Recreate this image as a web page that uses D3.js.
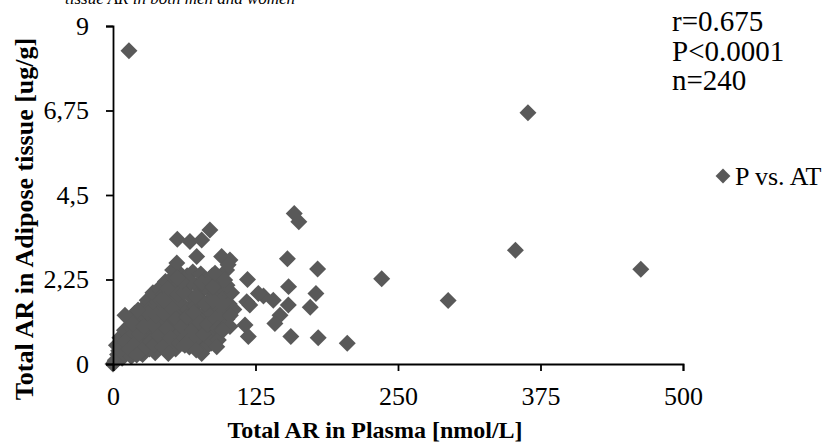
<!DOCTYPE html>
<html>
<head>
<meta charset="utf-8">
<script src="https://cdn.jsdelivr.net/npm/d3@7"></script>
<style>
  body { margin: 0; background: #fff; }
  text { font-family: "Liberation Serif", "Times New Roman", serif; fill: #000; }
  .axis path, .axis line { stroke: #000; stroke-width: 1.8; }
  .axis text { font-size: 26px; }
</style>
</head>
<body>
<div id="DataContent"></div>
<script>
// plasma AR (x, nmol/L) and adipose tissue AR (y, ug/g)
var plasmaAR = [
  0, 2, 4, 3, 6, 8, 9, 10, 12, 13, 14, 15, 16, 17, 18, 19, 21, 22, 22, 24,
  25, 26, 27, 28, 29, 30, 31, 32, 33, 34, 35, 36, 37, 38, 39, 40, 41, 42, 43, 44,
  45, 46, 47, 48, 49, 50, 51, 52, 53, 54, 55, 56, 57, 58, 59, 60, 61, 62, 63, 64,
  65, 66, 67, 68, 69, 70, 71, 72, 73, 74, 75, 76, 77, 78, 79, 80, 81, 82, 83, 84,
  85, 86, 87, 88, 89, 90, 91, 92, 93, 94, 95, 96, 97, 99, 100, 102, 104, 106,
  5, 11, 14, 18, 20, 23, 24, 27, 29, 31, 33, 35, 36, 38, 40, 42, 44, 45, 47, 48,
  50, 51, 53, 55, 57, 58, 60, 62, 63, 65, 66, 68, 70, 71, 73, 74, 76, 78, 80, 81,
  83, 85, 86, 88, 90, 92, 94, 96, 98, 100, 103, 60, 45, 88,
  14, 364, 353, 235.7, 294, 463,
  159, 163, 153, 179.5, 154, 178, 173, 156, 180, 205.5, 118, 132, 140.6, 153.8,
  146.5, 142, 115.8, 118.7, 117.3, 102.6, 99.7,
  85, 56.4, 67.5, 77.8, 73.4, 95.3, 101, 52.3, 56, 89.5, 98, 127.5, 120, 95.3,
  92.4, 79.2, 48.5, 20.8, 1.8, 102.6, 77.8, 63, 73, 91, 96.5, 56, 10.5, 22
];
var adiposeAR = [
  0, 0.1, 0.25, 0.5, 0.7, 0.15, 0.45, 0.9, 0.3, 0.65, 1.2, 1.0, 0.2, 0.5, 0.8, 1.35, 0.35, 0.6, 1.1, 0.9,
  1.45, 0.25, 0.55, 1.25, 0.8, 1.7, 1.05, 0.4, 1.5, 0.7, 1.9, 1.2, 0.3, 0.95, 1.65, 2.0, 1.4, 0.5, 1.1, 1.85,
  0.8, 2.2, 1.55, 0.35, 1.25, 1.95, 0.6, 2.3, 1.0, 1.7, 0.4, 2.1, 1.35, 0.8, 2.4, 1.6, 0.55, 1.15, 2.0, 0.9,
  2.35, 1.45, 0.45, 1.8, 1.1, 2.45, 0.7, 1.55, 2.1, 1.3, 0.5, 1.9, 2.4, 0.9, 1.65, 1.2, 2.25, 0.6, 1.45, 2.0,
  1.0, 1.75, 2.35, 1.3, 0.75, 1.9, 1.55, 2.15, 1.1, 1.7, 0.9, 2.0, 1.4, 1.8, 1.2, 1.6, 1.9, 1.45,
  0.35, 0.6, 0.4, 1.05, 0.55, 0.8, 0.3, 1.0, 0.45, 1.35, 0.6, 1.05, 0.5, 1.3, 0.75, 1.7, 0.45, 1.35, 0.95, 2.0,
  0.7, 1.5, 0.45, 1.2, 1.85, 0.55, 1.0, 1.9, 0.7, 1.25, 0.6, 2.2, 0.9, 1.35, 1.8, 0.7, 1.1, 2.15, 0.8, 1.6,
  1.05, 2.2, 0.55, 1.7, 1.2, 0.95, 2.25, 1.6, 1.0, 2.1, 1.3, 2.2, 1.7, 2.05,
  8.34, 6.69, 3.03, 2.27, 1.69, 2.52,
  4.01, 3.79, 2.80, 2.53, 2.06, 1.88, 1.51, 0.73, 0.70, 0.55, 2.25, 1.81, 1.70, 1.57,
  1.30, 1.08, 1.04, 0.73, 1.66, 2.77, 2.50,
  3.57, 3.32, 3.26, 3.30, 2.86, 2.86, 2.64, 2.50, 2.69, 2.42, 2.24, 1.88, 1.57, 0.90,
  0.64, 0.37, 0.28, 0.24, 0.06, 1.0, 0.28, 0.5, 0.37, 0.46, 0.9, 2.29, 1.3, 1.44
];
var xTicks = [0, 125, 250, 375, 500];
var yTicks = [0, 2.25, 4.5, 6.75, 9];
var yTickLabels = ['0', '2,25', '4,5', '6,75', '9'];
var statLines = ['r=0.675', 'P<0.0001', 'n=240'];
var seriesName = 'P vs. AT';

var width = 830, height = 446;
var margin = {top: 26, right: 147, bottom: 82, left: 113};
var pointColor = '#595959';

var svgContainer = d3.select('#DataContent')
    .append('svg')
    .attr('width', width)
    .attr('height', height);

var xScale = d3.scaleLinear()
    .domain([0, 500])
    .range([margin.left, width - margin.right]);

var yScale = d3.scaleLinear()
    .domain([0, 9])
    .range([height - margin.bottom, margin.top]);

var xAxis = d3.axisBottom(xScale)
    .tickValues(xTicks)
    .tickSize(7)
    .tickPadding(16)
    .tickFormat(d3.format('d'));

var yAxis = d3.axisLeft(yScale)
    .tickValues(yTicks)
    .tickSize(7)
    .tickPadding(17)
    .tickFormat(function(d, i) { return yTickLabels[i]; });

// caption line cut off at the very top, as in the source figure
svgContainer.append('text')
    .attr('x', 65)
    .attr('y', 4)
    .style('font-size', '17px')
    .style('font-style', 'italic')
    .text('tissue AR in both men and women');

var points = plasmaAR.map(function(d, i) { return {x: d, y: adiposeAR[i]}; });

var diamond = d3.symbol().type(d3.symbolSquare).size(144);

svgContainer.append('g')
    .selectAll('path')
    .data(points)
    .enter()
    .append('path')
    .attr('d', diamond)
    .attr('fill', pointColor)
    .attr('transform', function(d) {
        return 'translate(' + xScale(d.x) + ',' + yScale(d.y) + ') rotate(45)';
    });

svgContainer.append('g')
    .attr('class', 'axis')
    .attr('transform', 'translate(0,' + (height - margin.bottom) + ')')
    .call(xAxis);

svgContainer.append('g')
    .attr('class', 'axis')
    .attr('transform', 'translate(' + margin.left + ',0)')
    .call(yAxis);

svgContainer.selectAll('.axis text').attr('font-family', null);

// axis titles
svgContainer.append('text')
    .attr('x', 375)
    .attr('y', 438)
    .style('text-anchor', 'middle')
    .style('font-size', '24px')
    .style('font-weight', 'bold')
    .text('Total AR in Plasma [nmol/L]');

svgContainer.append('text')
    .attr('transform', 'translate(33,219) rotate(-90)')
    .style('text-anchor', 'middle')
    .style('font-size', '26px')
    .style('font-weight', 'bold')
    .text('Total AR in Adipose tissue [ug/g]');

// stats block
svgContainer.append('g')
    .selectAll('text')
    .data(statLines)
    .enter()
    .append('text')
    .attr('x', 672)
    .attr('y', function(d, i) { return 31 + i * 29.5; })
    .style('font-size', '29px')
    .text(function(d) { return d; });

// legend
var legend = svgContainer.append('g')
    .attr('transform', 'translate(723,176)');

legend.append('path')
    .attr('d', d3.symbol().type(d3.symbolSquare).size(110))
    .attr('transform', 'rotate(45)')
    .attr('fill', pointColor);

legend.append('text')
    .attr('x', 12)
    .attr('y', 9)
    .style('font-size', '26px')
    .text(seriesName);
</script>
</body>
</html>
